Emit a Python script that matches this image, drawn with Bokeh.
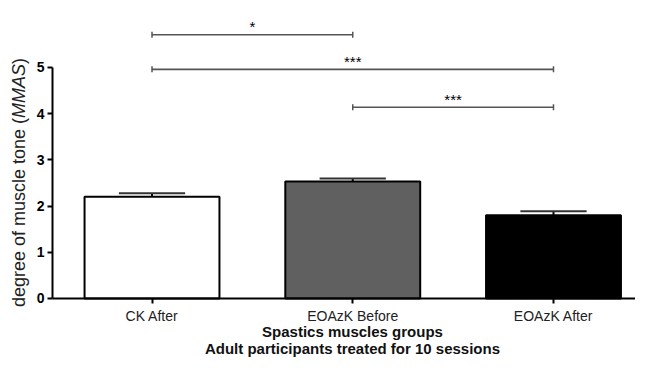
import math
from bokeh.plotting import figure
from bokeh.models import Range1d, FixedTicker, Label
from bokeh.core.properties import value
from bokeh.embed import file_html
from bokeh.resources import INLINE

# ---- data ----
categories = ["CK After", "EOAzK Before", "EOAzK After"]
means = [2.20, 2.53, 1.80]
sems = [0.08, 0.07, 0.09]
bar_colors = ["#ffffff", "#606060", "#000000"]
y_ticks = [0, 1, 2, 3, 4, 5]
pair_from = [0, 0, 1]
pair_to = [1, 2, 2]
bracket_y = [5.71, 4.96, 4.14]
sig_labels = ["*", "***", "***"]
x_title_lines = ["Spastics muscles groups", "Adult participants treated for 10 sessions"]
y_title_parts = ["degree of muscle tone (", "MMAS", ")"]

FONT = "Liberation Sans"
xs = list(range(len(categories)))

X0, X1 = -0.7547, 2.4085      # visible x extent
Y0, Y1 = -1.2987, 6.45        # visible y extent
X_AXIS_AT = -0.4956           # where the y axis stands

p = figure(width=635, height=358, output_backend="svg", toolbar_location=None,
           x_range=Range1d(X0, X1), y_range=Range1d(Y0, Y1),
           min_border_left=0, min_border_right=0, min_border_top=0,
           min_border_bottom=0)
p.outline_line_color = None
p.xgrid.visible = False
p.ygrid.visible = False
p.background_fill_color = "white"
p.border_fill_color = "white"

# bars
p.vbar(x=xs, top=means, width=0.672, bottom=0, fill_color=bar_colors,
       line_color="black", line_width=2)

# error bars (upper only)
tops = [m + s for m, s in zip(means, sems)]
p.segment(x0=xs, y0=means, x1=xs, y1=tops, line_color="black", line_width=2)
p.segment(x0=[x - 0.165 for x in xs], y0=tops, x1=[x + 0.165 for x in xs],
          y1=tops, line_color="#333333", line_width=2)

# significance brackets
p.segment(x0=pair_from, y0=bracket_y, x1=pair_to, y1=bracket_y,
          line_color="#555555", line_width=1.6)
p.scatter(x=pair_from + pair_to, y=bracket_y + bracket_y, marker="dash",
          angle=math.pi / 2, size=6, line_color="#555555", line_width=1.5)
star_x = [(a + b) / 2 for a, b in zip(pair_from, pair_to)]
p.text(x=star_x, y=bracket_y, text=sig_labels, text_align="center",
       text_baseline="alphabetic", y_offset=-8,
       text_font=value(FONT), text_font_size="15px", text_color="black")

# axes (drawn at fixed data locations inside the full-canvas frame)
for ax in (p.xaxis[0], p.yaxis[0]):
    ax.axis_line_width = 2
    ax.axis_line_color = "black"
    ax.major_tick_line_width = 2
    ax.major_tick_line_color = "black"
    ax.major_tick_in = 0
    ax.major_tick_out = 5
    ax.minor_tick_in = 0
    ax.minor_tick_out = 0
    ax.major_label_text_font = FONT
    ax.major_label_text_font_size = "14px"

p.xaxis.fixed_location = 0
p.xaxis.bounds = (X_AXIS_AT, X1)
p.xaxis.ticker = FixedTicker(ticks=xs)
p.xaxis.major_label_overrides = {x: c for x, c in zip(xs, categories)}
p.xaxis.major_label_text_color = "#222222"
p.xaxis.major_label_standoff = 5

p.yaxis.fixed_location = X_AXIS_AT
p.yaxis.ticker = FixedTicker(ticks=y_ticks)
p.yaxis.bounds = (0, 5)
p.yaxis.major_label_text_font_style = "bold"
p.yaxis.major_label_text_color = "black"
p.yaxis.major_label_standoff = 3

# x-axis title (two bold lines)
for line, yb in zip(x_title_lines, [27, 10]):
    p.add_layout(Label(x=352, y=yb, x_units="screen", y_units="screen", text=line,
                       text_align="center", text_baseline="alphabetic", text_font=FONT,
                       text_font_size="15px", text_font_style="bold",
                       text_color="#111111"))

# y-axis title, with italic MMAS
ysize = 18
em = [10.505, 3.0, 0.333]
pos = 176 - sum(em) * ysize / 2
styles = ["normal", "italic", "normal"]
for part, w, st in zip(y_title_parts, em, styles):
    p.add_layout(Label(x=18, y=pos, x_units="screen", y_units="screen", text=part,
                       angle=math.pi / 2, text_align="left", text_baseline="middle",
                       text_font=FONT, text_font_size=f"{ysize}px",
                       text_font_style=st, text_color="#222222"))
    pos += w * ysize

open("out.html", "w").write(file_html(p, INLINE))
